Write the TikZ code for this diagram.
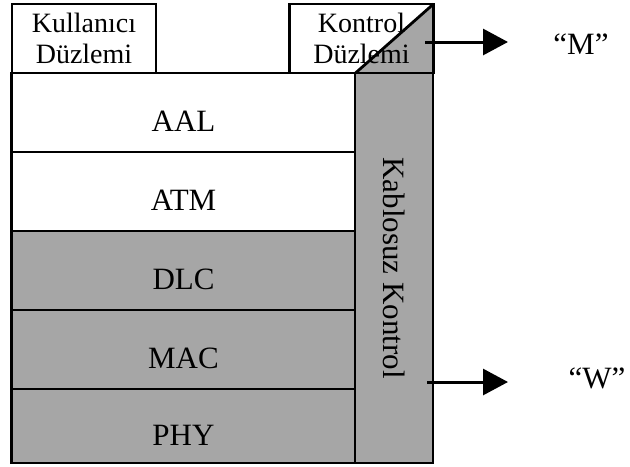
\documentclass[tikz,border=0pt]{standalone}
\usepackage{fontspec}
\setmainfont{Liberation Serif}
\usetikzlibrary{positioning, arrows.meta, backgrounds}

\begin{document}
\begin{tikzpicture}[x=0.5pt, y=-0.5pt, font=\fontsize{15.5}{17}\selectfont, line width=1.4pt,
  >={Triangle[length=12.5pt, width=13pt]}, node distance=0pt,
  every node/.append style={outer sep=0pt},
  lay/.style={draw, inner sep=0pt, minimum width=172pt, minimum height=39.5pt, text height=19pt, text depth=0pt},
  plane/.style={draw, align=center, inner sep=0pt, minimum width=72pt, minimum height=34.5pt,
    font=\fontsize{14}{15.5}\selectfont},
  shade/.style={fill=black!35}]
  \useasboundingbox (0,0) rectangle (630,466);
  % planes on top
  \node[plane] (kd) at (84,38.5){Kullanıcı\\Düzlemi};
  \node[plane] (cd) at (361.5,38.5){Kontrol\\Düzlemi};
  % protocol stack
  \node[lay] (aal) at (183.5,112.5){AAL};
  \node[lay, below=of aal] (atm){ATM};
  \node[lay, below=of atm, shade] (dlc){DLC};
  \node[lay, below=of dlc, shade] (mac){MAC};
  \node[lay, below=of mac, shade, minimum height=37pt] (phy){PHY};
  % wireless control column
  \node[draw, shade, rotate=-90, inner sep=0pt, minimum width=195pt, minimum height=39pt] (wc) at (394,268){Kablosuz Kontrol};
  \begin{scope}[on background layer]
    \fill[white] (0,0) rectangle (630,466);
    \fill[black!35] (aal.north east) -- (cd.north east) -- (cd.south east) -- cycle;
  \end{scope}
  \draw (aal.north east) -- (cd.north east);
  % outputs
  \coordinate (m0) at (425,42); \coordinate (m1) at (508,42);
  \coordinate (w0) at (427,382); \coordinate (w1) at (508,382);
  \node (m) at (581,44){``M''};
  \node (w) at (597,378){``W''};
  \draw[->, line width=1.5pt] (m0)--(m1); \draw[->, line width=1.5pt] (w0)--(w1);
\end{tikzpicture}
\end{document}
